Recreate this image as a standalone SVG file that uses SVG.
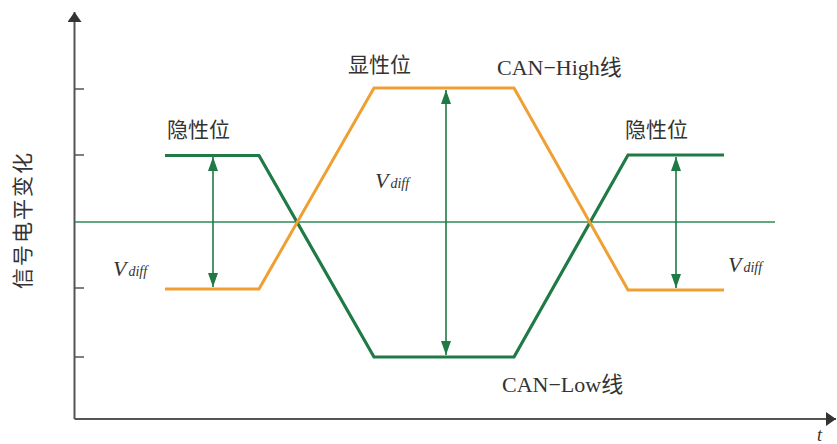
<svg xmlns="http://www.w3.org/2000/svg" width="837" height="444" viewBox="0 0 837 444">
<defs>
<marker id="ah" viewBox="0 0 10 14" refX="10" refY="7" markerWidth="10" markerHeight="14" markerUnits="userSpaceOnUse" orient="auto"><path d="M0,0 L10,7 L0,14 z" fill="#333"/></marker>
<marker id="gh" viewBox="0 0 14 10" refX="14" refY="5" markerWidth="14" markerHeight="10" markerUnits="userSpaceOnUse" orient="auto"><path d="M0,0 L14,5 L0,10 z" fill="#1f7a45"/></marker>
</defs>
<style>
.axis{stroke:#555;stroke-width:2;fill:none}
.tick{stroke:#555;stroke-width:1.5}
.ref{stroke:#2e8a55;stroke-width:1.3;fill:none}
.low{stroke:#1f7a45;stroke-width:3.2;fill:none;stroke-linejoin:miter}
.high{stroke:#f0a032;stroke-width:3;fill:none;stroke-linejoin:miter}
.dim{stroke:#1f7a45;stroke-width:1.6;fill:none}
.cjk{font-family:"Noto Sans CJK SC","Noto Sans",sans-serif;font-size:21px;fill:#333}
.lat{font-family:"Liberation Serif","Noto Sans CJK SC",serif;font-size:22px;fill:#333}
.v{font-family:"Liberation Serif",serif;font-style:italic;fill:#333}
</style>
<rect width="837" height="444" fill="#fff"/>
<g id="axes">
<line class="axis" x1="74.5" y1="419" x2="74.5" y2="12" marker-end="url(#ah)"/>
<line class="axis" x1="74.5" y1="419" x2="836" y2="419" marker-end="url(#ah)"/>
<line class="tick" x1="74.5" y1="89" x2="84" y2="89"/>
<line class="tick" x1="74.5" y1="155" x2="84" y2="155"/>
<line class="tick" x1="74.5" y1="288" x2="84" y2="288"/>
<line class="tick" x1="74.5" y1="357" x2="84" y2="357"/>
<line class="ref" x1="75" y1="222" x2="775" y2="222"/>
</g>
<g id="can-low">
<polyline class="low" points="165,155.5 259,155.5 374,357 514,357 628,155 724,155"/>
</g>
<g id="can-high">
<polyline class="high" points="165,289 259,289 374,88 514,88 628,290 724,290"/>
</g>
<g id="connectors">
<line class="dim" x1="213" y1="222" x2="213" y2="157" marker-end="url(#gh)"/>
<line class="dim" x1="213" y1="222" x2="213" y2="287" marker-end="url(#gh)"/>
<line class="dim" x1="446" y1="222" x2="446" y2="90" marker-end="url(#gh)"/>
<line class="dim" x1="446" y1="222" x2="446" y2="355" marker-end="url(#gh)"/>
<line class="dim" x1="676" y1="222" x2="676" y2="157" marker-end="url(#gh)"/>
<line class="dim" x1="676" y1="222" x2="676" y2="288" marker-end="url(#gh)"/>
</g>
<g id="labels">
<text class="cjk" x="167" y="137">隐性位</text>
<text class="cjk" x="348" y="72">显性位</text>
<text class="cjk" x="625" y="137">隐性位</text>
<text class="lat" x="497" y="75">CAN−High线</text>
<text class="lat" x="502" y="392">CAN−Low线</text>
<text class="v" x="113" y="276"><tspan font-size="22">V</tspan><tspan font-size="14" dx="2">diff</tspan></text>
<text class="v" x="375" y="188"><tspan font-size="22">V</tspan><tspan font-size="14" dx="2">diff</tspan></text>
<text class="v" x="728" y="272"><tspan font-size="22">V</tspan><tspan font-size="14" dx="2">diff</tspan></text>
<text class="v" x="817" y="441" font-size="18">t</text>
<text class="cjk" transform="translate(30,220) rotate(-90)" text-anchor="middle" font-size="21" letter-spacing="2">信号电平变化</text>
</g>
</svg>
